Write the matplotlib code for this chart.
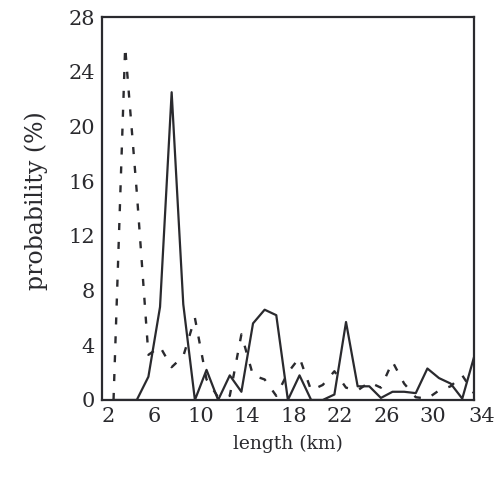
import matplotlib
matplotlib.use("Agg")
from matplotlib import pyplot as plt

# bin centres (km) and the two probability curves (%)
length = [2.5, 3.5, 4.5, 5.5, 6.5, 7.5, 8.5, 9.5, 10.5, 11.5, 12.5, 13.5,
          14.5, 15.5, 16.5, 17.5, 18.5, 19.5, 20.5, 21.5, 22.5, 23.5, 24.5,
          25.5, 26.5, 27.5, 28.5, 29.5, 30.5, 31.5, 32.5, 33.5]
solid = [0, 0, 0, 1.7, 6.8, 22.5, 7.0, 0, 2.2, 0, 1.8, 0.6,
         5.6, 6.6, 6.2, 0, 1.8, 0, 0, 0.4, 5.7, 1.0, 1.0,
         0.15, 0.6, 0.6, 0.5, 2.3, 1.6, 1.2, 0.1, 3.1]
dashed = [0, 25.8, 15.2, 3.3, 3.9, 2.4, 3.2, 6.0, 1.5, 0.2, 0.3, 4.8,
          1.8, 1.5, 0.3, 2.0, 3.1, 0.7, 1.1, 2.1, 0.9, 0.7, 1.3,
          0.9, 2.8, 1.2, 0.2, 0.1, 0.7, 1.0, 1.8, 0.5]
xticks = [2, 6, 10, 14, 18, 22, 26, 30]
yticks = [0, 4, 8, 12, 16, 20, 24, 28]

plt.rcParams['font.family'] = ['DejaVu Serif']
ink = '#2a2a2e'

fig = plt.figure(figsize=(5.02, 4.86), dpi=100)
ax = fig.add_axes([0.203, 0.177, 0.741, 0.788])

ax.plot(length, solid, color=ink, lw=1.6)
ax.plot(length, dashed, color=ink, lw=1.7, ls=(0, (3, 5)))

ax.set_xlim(1.5, 33.5)
ax.set_ylim(0, 28)
ax.set_xticks(xticks)
ax.set_yticks(yticks)
ax.tick_params(length=0, labelsize=15, colors=ink, pad=5)
# last x label sits just past the right frame
ax.text(34.2, -0.018, '34', transform=ax.get_xaxis_transform(),
        ha='center', va='top', fontsize=15, color=ink)

for s in ax.spines.values():
    s.set_color(ink)
    s.set_linewidth(1.6)

ax.set_xlabel('length (km)', fontsize=13.5, color=ink, labelpad=6)
ax.set_ylabel('probability (%)', fontsize=17, color=ink)
ax.yaxis.set_label_coords(-0.145, 0.52)

fig.savefig('out.png', dpi=100)
